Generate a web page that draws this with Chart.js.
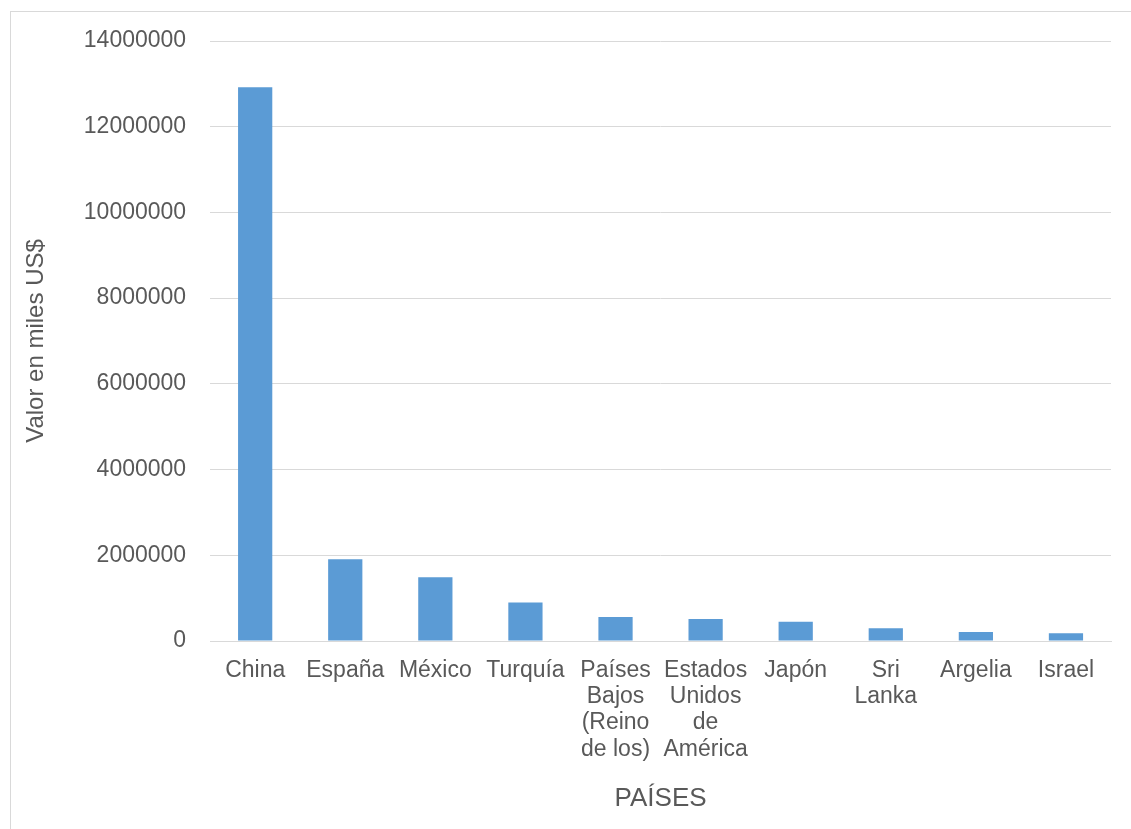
<!DOCTYPE html>
<html>
<head>
<meta charset="utf-8">
<style>
  body { margin: 0; background: #fff; }
  #wrap { position: relative; width: 1131px; height: 829px; overflow: hidden; }
  #frame { position: absolute; left: 10px; top: 11px; width: 1140px; height: 840px; border: 1px solid #d9d9d9; }
  canvas { position: absolute; left: 0; top: 0; }
</style>
</head>
<body>
<div id="wrap">
  <div id="frame"></div>
  <canvas id="myChart" width="1131" height="829"></canvas>
</div>
<script src="https://cdn.jsdelivr.net/npm/chart.js"></script>
<script>
  const paises = [
    "China",
    "España",
    "México",
    "Turquía",
    ["Países", "Bajos", "(Reino", "de los)"],
    ["Estados", "Unidos", "de", "América"],
    "Japón",
    ["Sri", "Lanka"],
    "Argelia",
    "Israel",
  ];
  const valores = [12920000, 1905000, 1490000, 900000, 560000, 515000, 450000, 300000, 210000, 180000];
  const yTicks = [0, 2000000, 4000000, 6000000, 8000000, 10000000, 12000000, 14000000];

  const gris = "#595959";
  const font = "'Liberation Sans', Arial, sans-serif";

  new Chart(document.getElementById("myChart"), {
    type: "bar",
    data: {
      labels: paises,
      datasets: [
        {
          data: valores,
          backgroundColor: "#5b9bd5",
          borderWidth: 0,
          categoryPercentage: 1,
          barPercentage: 0.38,
        },
      ],
    },
    options: {
      responsive: false,
      animation: false,
      layout: { padding: { left: 22, top: 41, right: 20, bottom: 15 } },
      plugins: { legend: { display: false }, tooltip: { enabled: false } },
      scales: {
        x: {
          grid: { display: false, drawTicks: false },
          border: { color: "#d9d9d9", width: 1 },
          ticks: { color: gris, font: { family: font, size: 23, lineHeight: 1.15 }, maxRotation: 0, autoSkip: false, padding: 16 },
          title: { display: true, text: "PAÍSES", color: gris, font: { family: font, size: 26 }, padding: { top: 4, bottom: 0 } },
        },
        y: {
          min: 0,
          max: 14000000,
          afterBuildTicks: (axis) => { axis.ticks = yTicks.map((v) => ({ value: v })); },
          grid: { color: "#d9d9d9", drawTicks: false },
          border: { display: false },
          ticks: { color: gris, font: { family: font, size: 23 }, padding: 24, callback: (v) => String(v) },
          title: { display: true, text: "Valor en miles US$", color: gris, font: { family: font, size: 24 }, padding: { top: 0, bottom: 9 } },
        },
      },
    },
  });
</script>
</body>
</html>
